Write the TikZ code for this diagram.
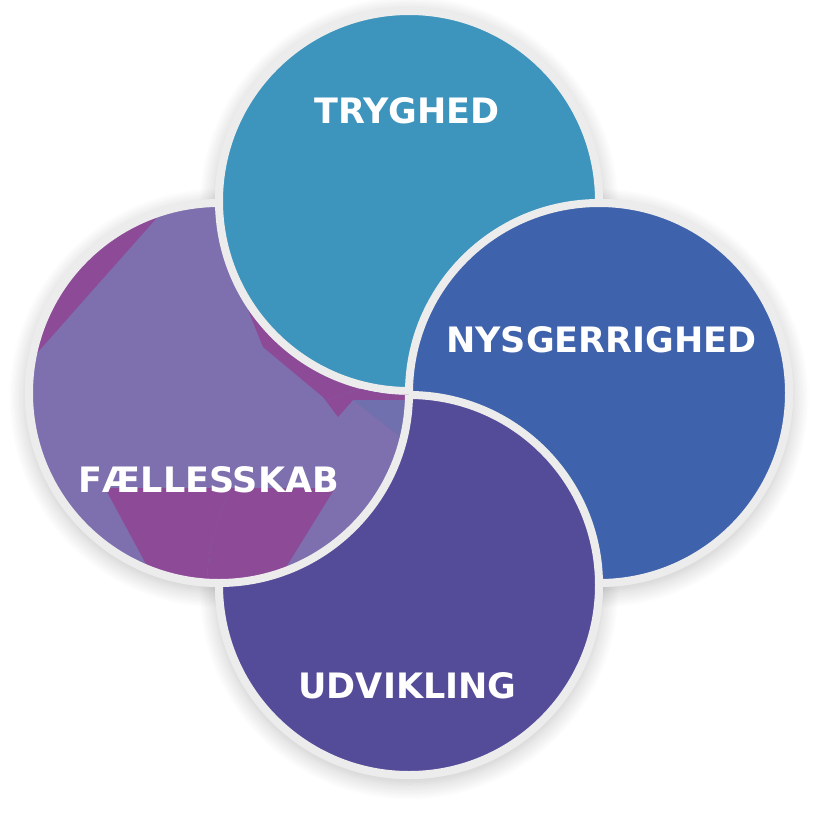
\documentclass[tikz,border=0pt]{standalone}
\usepackage{fontspec}
\setmainfont{DejaVu Sans}
\usetikzlibrary{shadows.blur}

\definecolor{ringgray}{RGB}{236,236,236}
\definecolor{trygblue}{RGB}{61,148,189}
\definecolor{nysblue}{RGB}{62,98,171}
\definecolor{udvviolet}{RGB}{85,76,153}
\definecolor{faellav}{RGB}{126,111,174}
\definecolor{faelmag}{RGB}{141,74,151}
\definecolor{faelblue}{RGB}{112,112,174}

\tikzset{
  ring/.style={draw=ringgray, line width=8pt},
  soft shadow/.style={blur shadow={shadow xshift=0pt, shadow yshift=-5pt, shadow blur radius=16pt, shadow opacity=22, shadow blur steps=12}},
  word/.style={text=white, inner sep=0pt, font=\bfseries\fontsize{35}{40}\selectfont},
}

% body of the Faellesskab circle, used twice
\newcommand{\faelbody}{%
  \fill [faellav] (cF) circle (190);
  \begin{scope}
    \clip (cF) circle (190);
    \fill [faelmag] (105,488) -- (335,488) -- (272,590) -- (160,590) -- cycle;
    \fill [faelmag] (0,195) -- (177,195) -- (22,370) -- (0,370) -- cycle;
    \fill [faelmag] (240,290) -- (263,347) -- (323,397) -- (338,417) -- (353,400) -- (430,400) -- (430,190) -- (240,190) -- cycle;
    \fill [faelblue] (353,400) -- (412,400) -- (412,446) -- cycle;
  \end{scope}
  \draw [ring] (cF) circle (190);
}

\begin{document}
\begin{tikzpicture}[x=1pt,y=1pt,yscale=-1,xscale=1]
\useasboundingbox (0,0) rectangle (816,827);

\coordinate (cT) at (409,201);
\coordinate (cN) at (599,393);
\coordinate (cU) at (409,585);
\coordinate (cF) at (219,393);

%Shadows
\foreach \c in {cF,cT,cN,cU}
  \fill [ringgray, soft shadow] (\c) circle (194);

%Circle: Faellesskab
\faelbody
%Circle: Tryghed
\fill [trygblue] (cT) circle (190);
\draw [ring] (cT) circle (190);
%Circle: Nysgerrighed
\fill [nysblue] (cN) circle (190);
\draw [ring] (cN) circle (190);
%Circle: Udvikling
\fill [udvviolet] (cU) circle (190);
\draw [ring] (cU) circle (190);

%Faellesskab again, over Udvikling but under Tryghed
\begin{scope}[even odd rule]
  \clip (cU) circle (202);
  \clip (0,0) rectangle (816,827) (cT) circle (194);
  \faelbody
\end{scope}

% Text Node
\node [word] (tryghed) at (407,110.5) {TRYGHED};
% Text Node
\node [word] (nysgerrighed) at (601.5,340) {NYSGERRIGHED};
% Text Node
\node [word] (faellesskab) at (209,479.5) {FÆLLESSKAB};
% Text Node
\node [word] (udvikling) at (407.5,686) {UDVIKLING};

\end{tikzpicture}
\end{document}
